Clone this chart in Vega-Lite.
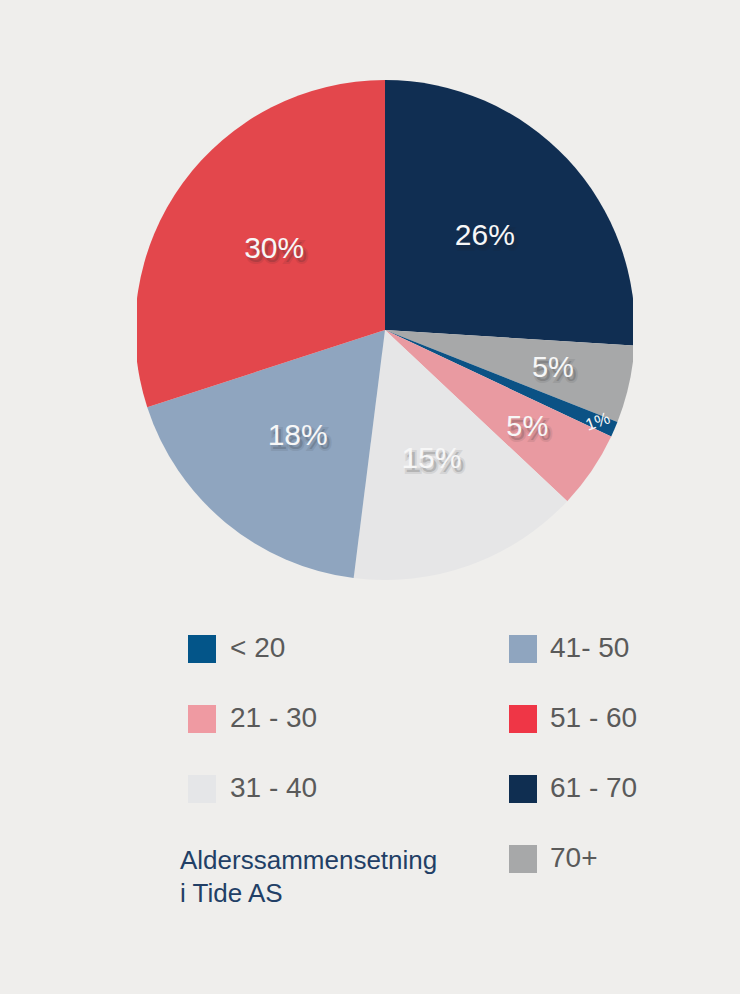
{
  "$schema": "https://vega.github.io/schema/vega-lite/v6.json",
  "autosize": {"type": "none"},
  "padding": {"left": 137, "top": 80, "right": 107, "bottom": 414},
  "width": 496,
  "height": 500,
  "background": "#efeeec",
  "config": {"view": {"stroke": null}, "font": "Liberation Sans"},
  "data": {
    "values": [
      {"age": "61 - 70", "share": 0.26, "rank": 1},
      {"age": "70+", "share": 0.05, "rank": 2},
      {"age": "< 20", "share": 0.01, "rank": 3},
      {"age": "21 - 30", "share": 0.05, "rank": 4},
      {"age": "31 - 40", "share": 0.15, "rank": 5},
      {"age": "41- 50", "share": 0.18, "rank": 6},
      {"age": "51 - 60", "share": 0.30, "rank": 7}
    ]
  },
  "layer": [
    {
      "mark": {"type": "arc", "outerRadius": 250, "clip": true},
      "encoding": {
        "theta": {"field": "share", "type": "quantitative", "stack": true},
        "order": {"field": "rank", "type": "quantitative"},
        "color": {
          "field": "age", "type": "nominal", "legend": null,
          "scale": {
            "domain": ["< 20", "21 - 30", "31 - 40", "41- 50", "51 - 60", "61 - 70", "70+"],
            "range": ["#0b5285", "#e99aa1", "#e6e6e7", "#8fa5bf", "#e3474c", "#102e52", "#a7a8a9"]
          }
        }
      }
    },
    {
      "mark": {"type": "text", "radius": 137, "fontSize": 30, "fill": "#222222", "opacity": 0.25, "dx": 3, "dy": 4, "stroke": "#222222", "strokeWidth": 4, "strokeOpacity": 0.35},
      "encoding": {
        "theta": {"field": "share", "type": "quantitative", "stack": true},
        "order": {"field": "rank", "type": "quantitative"},
        "text": {"field": "share", "type": "quantitative", "format": ".0%", "condition": {"test": "datum.share < 0.1", "value": ""}}
      }
    },
    {
      "mark": {"type": "text", "radius": 137, "fontSize": 30, "fill": "#f7f7f7"},
      "encoding": {
        "theta": {"field": "share", "type": "quantitative", "stack": true},
        "order": {"field": "rank", "type": "quantitative"},
        "text": {"field": "share", "type": "quantitative", "format": ".0%", "condition": {"test": "datum.share < 0.1", "value": ""}}
      }
    },
    {
      "mark": {"type": "text", "radius": 172, "fontSize": 29, "fill": "#222222", "opacity": 0.25, "dx": 3, "dy": 4, "stroke": "#222222", "strokeWidth": 4, "strokeOpacity": 0.35},
      "encoding": {
        "theta": {"field": "share", "type": "quantitative", "stack": true},
        "order": {"field": "rank", "type": "quantitative"},
        "text": {"field": "share", "type": "quantitative", "format": ".0%", "condition": {"test": "datum.share != 0.05", "value": ""}}
      }
    },
    {
      "mark": {"type": "text", "radius": 172, "fontSize": 29, "fill": "#f7f7f7"},
      "encoding": {
        "theta": {"field": "share", "type": "quantitative", "stack": true},
        "order": {"field": "rank", "type": "quantitative"},
        "text": {"field": "share", "type": "quantitative", "format": ".0%", "condition": {"test": "datum.share != 0.05", "value": ""}}
      }
    },
    {
      "mark": {"type": "text", "radius": 232, "fontSize": 17, "angle": -20, "fill": "#f7f7f7"},
      "encoding": {
        "theta": {"field": "share", "type": "quantitative", "stack": true},
        "order": {"field": "rank", "type": "quantitative"},
        "text": {"field": "share", "type": "quantitative", "format": ".0%", "condition": {"test": "datum.share != 0.01", "value": ""}}
      }
    },
    {
      "transform": [{"filter": {"field": "age", "oneOf": ["< 20", "21 - 30", "31 - 40"]}}],
      "mark": {"type": "point", "filled": true, "opacity": 0},
      "encoding": {
        "color": {
          "field": "age", "type": "nominal",
          "scale": {"domain": ["< 20", "21 - 30", "31 - 40"], "range": ["#035589", "#ef9aa2", "#e5e6e8"]},
          "legend": {
            "orient": "none", "legendX": 43, "legendY": 555, "padding": 0,
            "symbolType": "square", "symbolSize": 784, "symbolOpacity": 1, "symbolStrokeWidth": 0, "symbolOffset": 8,
            "labelFontSize": 28, "labelColor": "#5a5a5a", "labelOffset": 14, "rowPadding": 42,
            "title": ["Alderssammensetning", "i Tide AS"], "titleOrient": "bottom", "titleAnchor": "start",
            "titleFontSize": 26, "titleFontWeight": "normal", "titleColor": "#223f66", "titleLineHeight": 33,
            "titlePadding": 45, "titleBaseline": "top", "titleLimit": 400
          }
        }
      }
    },
    {
      "transform": [{"filter": {"field": "age", "oneOf": ["41- 50", "51 - 60", "61 - 70", "70+"]}}],
      "mark": {"type": "point", "filled": true, "opacity": 0},
      "encoding": {
        "color": {
          "field": "age", "type": "nominal",
          "scale": {"domain": ["41- 50", "51 - 60", "61 - 70", "70+"], "range": ["#8fa5bf", "#ef3646", "#0f2e51", "#a7a8a9"]},
          "legend": {
            "orient": "none", "legendX": 372, "legendY": 555, "padding": 0,
            "symbolType": "square", "symbolSize": 784, "symbolOpacity": 1, "symbolStrokeWidth": 0,
            "labelFontSize": 28, "labelColor": "#5a5a5a", "labelOffset": 13, "rowPadding": 42,
            "title": null
          }
        }
      }
    }
  ],
  "resolve": {"scale": {"color": "independent"}, "legend": {"color": "independent"}}
}
